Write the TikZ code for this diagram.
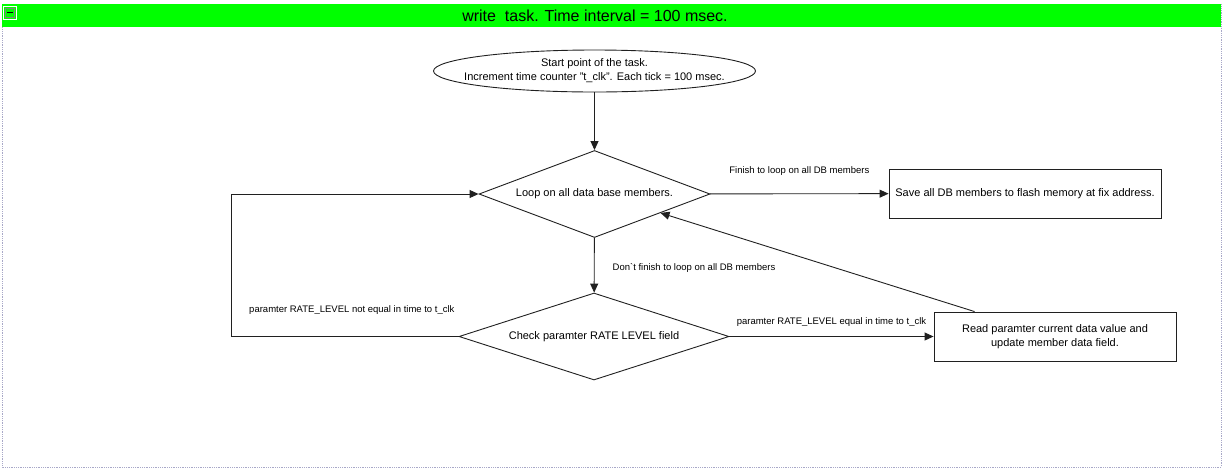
\documentclass[tikz,border=0pt]{standalone}
\usepackage{fontspec}
\setmainfont{Liberation Sans}
\usetikzlibrary{arrows.meta,positioning,shapes.geometric}
\definecolor{hdrgreen}{HTML}{00FF00}
\definecolor{framegray}{HTML}{A8A8C8}
\definecolor{ink}{HTML}{202020}

\begin{document}
\begin{tikzpicture}[x=1pt,y=-1pt, every node/.style={font=\fontsize{11}{14}\selectfont},
 box/.style={draw=ink,line width=0.9pt,align=center,inner sep=0pt},
 dec/.style={draw=ink,line width=0.9pt,diamond,aspect=3,inner sep=0pt,minimum height=87pt},
 lbl/.style={font=\fontsize{9.5}{11}\selectfont,inner sep=0pt},
 arr/.style={-{Triangle[length=9pt,width=8pt]},draw=ink,line width=0.9pt}]
\useasboundingbox (0,0) rectangle (1232,475);
% frame and header
\draw[framegray,densely dotted,line width=0.8pt] (2,4) rectangle (1221,467);
\fill[hdrgreen] (2,4) rectangle (1221,27);
\node[font=\fontsize{16}{18}\selectfont] (title) at (595,16) {write\ \ task. Time interval = 100 msec.};
\draw[white,line width=1pt] (3.5,6.5) rectangle (16,19);
\draw[gray,line width=0.6pt] (5,8) rectangle (14.5,17.5);
\draw[black,line width=1.2pt] (7,12.7) -- (12.5,12.7);
% flow
\node[box,ellipse,minimum width=322pt,minimum height=42pt,inner xsep=-40pt,font=\fontsize{11}{14}\selectfont] (start) at (594.5,71)
 {Start point of the task.\\Increment time counter "t\_clk". Each tick = 100 msec.};
\node[dec,minimum width=231pt] (loop) at (594.5,194) {Loop on all data base members.};
\node[dec,minimum width=270pt] (check) at (594,336.5) {Check paramter RATE\ LEVEL field};
\node[box,minimum width=272pt,minimum height=49pt] (save) at (1025,193.5) {Save all DB members to flash memory at fix address.};
\node[box,minimum width=242pt,minimum height=49pt] (read) at (1055,336.5) {Read paramter current data value and\\update member data field.};
\draw[arr] (start) -- (loop);
\draw[arr] (loop) -- node[lbl,yshift=23pt] {Finish to loop on all DB members} (save);
\draw[arr] (loop) -- node[lbl,right=18pt,yshift=-3pt] {Don\textasciigrave t finish to loop on all DB members} (check);
\draw[arr] (check) -- node[lbl,yshift=14pt] {paramter RATE\_LEVEL equal in time to t\_clk} (read);
\draw[arr] ([xshift=41pt]read.north west) -- (loop.-16);
\draw[arr] (check.west) -- node[lbl,pos=0.47,yshift=26pt] {paramter RATE\_LEVEL not equal in time to t\_clk} ++(-227,0) |- (loop.west);
\end{tikzpicture}
\end{document}
